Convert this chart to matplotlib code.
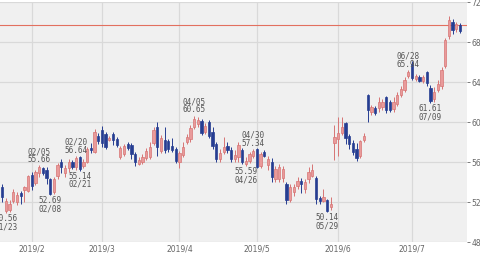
import matplotlib
matplotlib.use('Agg')
import matplotlib.pyplot as plt
import pandas as pd

# daily candles, 2019/1/22 - 2019/7/19 (US trading days)
opens = [53.5, 51.1, 51.2, 52.1, 52.0, 52.9, 53.2, 53.1, 54.7, 53.9,
         54.9, 55.4, 55.2, 54.3, 53.0, 54.6, 56.0, 54.9, 55.4, 56.0,
         55.5, 56.5, 55.6, 56.0, 57.4, 57.0, 58.6, 59.2, 58.8, 58.2,
         58.8, 58.3, 56.5, 56.8, 57.8, 57.7, 56.8, 55.8, 56.0, 56.4,
         56.5, 57.9, 59.5, 57.1, 58.2, 58.1, 57.6, 57.3, 56.0, 56.7,
         58.0, 58.3, 59.5, 59.8, 60.1, 59.0, 60.0, 59.0, 57.8, 56.3,
         57.0, 57.6, 57.2, 56.3, 56.5, 57.2, 55.8, 56.1, 56.6, 57.3,
         55.6, 57.0, 55.7, 56.0, 54.3, 54.3, 54.4, 53.8, 52.2, 53.0,
         53.6, 54.1, 53.3, 54.3, 54.6, 54.4, 52.4, 52.1, 52.2, 51.5,
         57.9, 58.3, 58.9, 59.9, 58.6, 57.9, 57.3, 56.6, 58.2, 62.7,
         61.0, 61.4, 61.4, 61.5, 62.5, 62.0, 61.3, 61.8, 62.7, 63.2,
         64.6, 65.8, 64.3, 64.5, 64.1, 65.0, 63.4, 62.3, 63.2, 63.6,
         65.6, 68.6, 70.0, 69.3, 69.7]
highs = [53.8, 52.4, 52.2, 53.3, 53.0, 53.1, 53.6, 54.7, 55.0, 55.2,
         55.66, 55.5, 55.5, 54.4, 54.5, 55.9, 56.3, 55.7, 56.3, 56.2,
         56.64, 56.6, 56.3, 57.5, 57.9, 59.3, 58.9, 59.6, 59.0, 58.6,
         59.0, 58.5, 57.6, 57.8, 58.0, 57.9, 57.0, 56.5, 56.8, 57.4,
         58.0, 59.5, 60.0, 58.7, 59.5, 58.3, 58.4, 57.5, 57.1, 58.0,
         58.8, 59.7, 60.65, 60.5, 60.3, 59.9, 60.2, 59.5, 58.0, 57.3,
         58.5, 58.0, 57.5, 57.2, 58.0, 57.4, 56.5, 57.0, 57.34, 57.4,
         57.0, 57.2, 56.6, 56.4, 55.6, 55.8, 55.6, 54.0, 53.8, 53.8,
         54.5, 54.4, 54.3, 55.5, 55.8, 54.6, 52.6, 53.3, 52.3, 52.5,
         59.7, 60.5, 60.5, 60.0, 58.8, 58.2, 57.9, 58.2, 58.9, 62.8,
         61.7, 61.6, 62.5, 62.3, 62.6, 62.2, 62.5, 63.0, 63.6, 64.5,
         65.2, 66.1, 64.8, 64.7, 64.7, 65.1, 63.7, 63.5, 64.2, 65.5,
         68.4, 70.6, 70.3, 70.0, 69.9]
lows = [52.0, 50.9, 51.0, 51.9, 51.7, 51.8, 52.0, 53.0, 53.2, 53.7,
        54.5, 54.7, 53.8, 52.69, 52.8, 54.3, 54.9, 54.5, 55.0, 55.3,
        55.2, 55.14, 55.4, 55.9, 56.9, 56.9, 57.8, 57.5, 57.3, 58.1,
        57.7, 57.5, 56.3, 56.6, 57.2, 56.3, 55.6, 55.7, 55.8, 56.2,
        56.3, 57.7, 56.6, 56.9, 56.9, 57.0, 57.0, 55.9, 55.4, 56.5,
        57.8, 58.0, 59.3, 59.5, 58.7, 58.8, 58.4, 57.3, 56.0, 56.0,
        56.8, 56.9, 56.0, 56.0, 56.0, 55.8, 55.59, 55.9, 56.4, 55.4,
        55.4, 56.5, 55.2, 54.0, 54.0, 54.0, 54.0, 51.8, 52.0, 52.6,
        53.3, 52.9, 52.9, 53.9, 54.5, 51.8, 51.8, 52.0, 51.0, 51.2,
        56.2, 56.6, 58.7, 57.8, 57.3, 56.7, 56.1, 56.4, 58.0, 60.0,
        60.7, 60.7, 61.0, 61.2, 60.9, 61.0, 61.0, 61.6, 62.5, 63.0,
        64.4, 64.2, 64.1, 64.0, 63.9, 63.6, 61.9, 62.0, 63.0, 63.3,
        65.4, 68.3, 68.8, 69.0, 68.9]
closes = [52.5, 52.1, 51.8, 53.0, 52.7, 52.6, 53.5, 54.6, 53.6, 55.0,
          55.5, 54.9, 54.4, 52.8, 54.3, 55.7, 55.5, 55.4, 56.0, 55.5,
          56.4, 55.3, 56.0, 57.3, 57.2, 59.0, 58.1, 57.9, 57.5, 58.4,
          58.2, 57.7, 57.4, 57.6, 57.4, 56.8, 56.0, 56.2, 56.5, 57.1,
          57.5, 59.2, 57.5, 58.4, 57.2, 57.3, 57.2, 56.1, 56.9, 57.5,
          58.5, 59.4, 60.3, 60.2, 58.9, 59.6, 58.6, 57.6, 56.3, 56.9,
          57.5, 57.2, 56.3, 56.7, 57.7, 56.0, 56.1, 56.8, 57.1, 55.5,
          56.8, 56.6, 56.3, 54.5, 55.3, 55.5, 55.3, 52.2, 53.5, 53.5,
          54.1, 53.8, 54.0, 55.0, 55.2, 52.3, 52.1, 52.5, 51.1, 51.8,
          58.5, 58.9, 59.5, 58.4, 57.8, 57.0, 56.4, 58.1, 58.6, 61.2,
          61.5, 60.9, 62.0, 62.0, 61.2, 61.2, 62.0, 62.7, 63.3, 64.2,
          65.0, 64.4, 64.6, 64.1, 64.5, 63.9, 62.1, 63.0, 63.8, 65.2,
          68.2, 70.2, 69.2, 69.8, 69.1]

ref_line = 69.7

# (date, high/low, value text)
marks = [('01/23', 'low', '50.56'), ('02/05', 'high', '55.66'),
         ('02/08', 'low', '52.69'), ('02/20', 'high', '56.64'),
         ('02/21', 'low', '55.14'), ('04/05', 'high', '60.65'),
         ('04/26', 'low', '55.59'), ('04/30', 'high', '57.34'),
         ('05/29', 'low', '50.14'), ('06/28', 'high', '65.94'),
         ('07/09', 'low', '61.61')]

y_ticks = [48, 52, 56, 60, 64, 68, 72]

dates = pd.bdate_range('2019-01-22', periods=len(opens), freq='C',
                       holidays=['2019-02-18', '2019-04-19', '2019-05-27', '2019-07-04'])
labels = [d.strftime('%m/%d') for d in dates]

up_face = '#e99a9a'
up_edge = '#d77474'
down_col = '#263d92'

fig = plt.figure(figsize=(4.8, 2.54), dpi=100)
ax = fig.add_axes([0.0, 12 / 254, 467 / 480, 240 / 254])
ax.set_facecolor('#f0f0f0')

x = list(range(len(opens)))
for i in x:
    o, h, l, c = opens[i], highs[i], lows[i], closes[i]
    if c >= o:
        face, edge = up_face, up_edge
    else:
        face, edge = down_col, down_col
    ax.vlines(i, l, h, color=edge, linewidth=0.7, zorder=3)
    ax.bar(i, abs(c - o), bottom=min(o, c), width=0.62, color=face,
           edgecolor=edge, linewidth=0.5, zorder=4)

ax.axhline(ref_line, color='#e2705f', linewidth=0.8, zorder=2)

# month gridlines at first trading day
month_idx = [i for i in range(1, len(dates)) if dates[i].month != dates[i - 1].month]
ax.set_xticks(month_idx)
ax.set_xticklabels([f'{dates[i].year}/{dates[i].month}' for i in month_idx])
ax.set_xlim(-0.6, len(opens) + 0.9)
ax.set_ylim(48, 72)
ax.set_yticks(y_ticks)
ax.yaxis.tick_right()
ax.grid(True, color='#d9d9d9', linewidth=0.9, zorder=1)
ax.tick_params(axis='y', labelsize=5.5, colors='#666666', length=2, width=0.6, pad=1)
ax.tick_params(axis='x', labelsize=5.5, colors='#666666', length=0, pad=2)
for s in ax.spines.values():
    s.set_visible(False)

for d, kind, val in marks:
    i = labels.index(d)
    if kind == 'high':
        ax.text(i, highs[i] + 0.1, f'{d}\n{val}', ha='center', va='bottom',
                fontsize=5.6, color='#555555', family='DejaVu Sans Mono',
                linespacing=0.9, zorder=5)
    else:
        ax.text(i, lows[i] - 0.1, f'{val}\n{d}', ha='center', va='top',
                fontsize=5.6, color='#555555', family='DejaVu Sans Mono',
                linespacing=0.9, zorder=5)

fig.savefig('out.png', dpi=100)
